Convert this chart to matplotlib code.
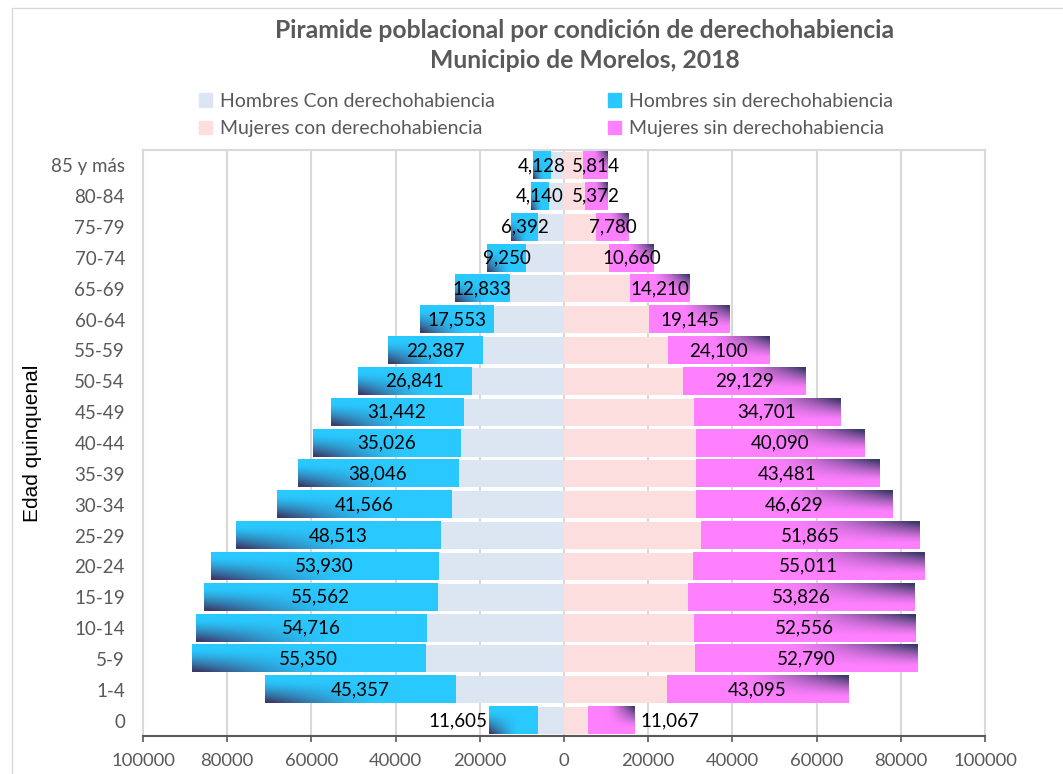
import numpy as np
import matplotlib.pyplot as plt
from matplotlib.patches import Patch, Rectangle
from matplotlib.colors import to_rgb

plt.rcParams['font.family'] = ['Lato', 'DejaVu Sans']

# age groups, bottom to top
edades = ['0', '1-4', '5-9', '10-14', '15-19', '20-24', '25-29', '30-34', '35-39',
          '40-44', '45-49', '50-54', '55-59', '60-64', '65-69', '70-74', '75-79',
          '80-84', '85 y más']
hombres_con = [6200, 25700, 33100, 32600, 30000, 30000, 29300, 26600, 25200,
               24700, 24000, 22100, 19300, 16600, 13100, 9000, 6200, 3800, 3300]
hombres_sin = [11605, 45357, 55350, 54716, 55562, 53930, 48513, 41566, 38046,
               35026, 31442, 26841, 22387, 17553, 12833, 9250, 6392, 4140, 4128]
mujeres_con = [5800, 24400, 31100, 30800, 29400, 30600, 32500, 31300, 31300,
               31300, 30800, 28200, 24600, 20300, 15600, 10800, 7700, 4900, 4600]
mujeres_sin = [11067, 43095, 52790, 52556, 53826, 55011, 51865, 46629, 43481,
               40090, 34701, 29129, 24100, 19145, 14210, 10660, 7780, 5372, 5814]

c_hcon = '#DCE6F2'
c_mcon = '#FDDEDE'
c_hsin = '#29C8FF'
c_msin = '#FF80FF'
c_dark = '#3C3A68'
gris = '#595959'

fig = plt.figure(figsize=(10.63, 7.74), dpi=100)
ax = fig.add_axes([143/1063, 1-736/774, (985-143)/1063, (736-150)/774])

y = np.arange(len(edades))
h = 0.88
hc = -np.array(hombres_con)
hs = -np.array(hombres_sin)
mc = np.array(mujeres_con)
ms = np.array(mujeres_sin)

ax.barh(y, hc, height=h, color=c_hcon, zorder=2)
ax.barh(y, mc, height=h, color=c_mcon, zorder=2)
bh = ax.barh(y, hs, left=hc, height=h, color=c_hsin, zorder=2)
bm = ax.barh(y, ms, left=mc, height=h, color=c_msin, zorder=2)


def degradado(rect, base, esquina):
    x0, yb = rect.get_x(), rect.get_y()
    w, hh = rect.get_width(), rect.get_height()
    xl, xr = min(x0, x0 + w), max(x0, x0 + w)
    U, V = np.meshgrid(np.linspace(0, 1, 120), np.linspace(0, 1, 30))
    if esquina == 'tr':
        U, V = 1 - U, 1 - V
    t = np.clip(1 - U / 0.6, 0, 1) ** 1.4 * np.clip(1 - V / 0.8, 0, 1) ** 1.3
    t = np.clip(t * 1.1, 0, 1)
    b = np.array(to_rgb(base))
    k = np.array(to_rgb(c_dark))
    img = b * (1 - t[..., None]) + k * t[..., None]
    ax.imshow(img, extent=[xl, xr, yb, yb + hh], origin='lower', aspect='auto',
              interpolation='bilinear', zorder=3)


for r in bh:
    degradado(r, c_hsin, 'bl')
for r in bm:
    degradado(r, c_msin, 'tr')

# data labels
for i in range(len(edades)):
    th = f'{hombres_sin[i]:,}'
    tm = f'{mujeres_sin[i]:,}'
    if i == 0:
        ax.annotate(th, (hc[i] + hs[i], y[i]), xytext=(-1, 0), textcoords='offset points',
                    ha='right', va='center', fontsize=13.5, zorder=5)
        ax.annotate(tm, (mc[i] + ms[i], y[i]), xytext=(4, 0), textcoords='offset points',
                    ha='left', va='center', fontsize=13.5, zorder=5)
    else:
        ax.text(hc[i] + hs[i] / 2, y[i], th, ha='center', va='center', fontsize=13.5, zorder=5)
        ax.text(mc[i] + ms[i] / 2, y[i], tm, ha='center', va='center', fontsize=13.5, zorder=5)

ax.set_xlim(-100000, 100000)
ax.set_ylim(-0.5, len(edades) - 0.5)
ticks = np.arange(-100000, 100001, 20000)
ax.set_xticks(ticks)
ax.set_xticklabels([str(abs(t)) for t in ticks], color=gris, fontsize=13.3)
ax.set_yticks(y)
ax.set_yticklabels(edades, color=gris, fontsize=13.5)
ax.tick_params(axis='y', length=0, pad=13)
ax.tick_params(axis='x', length=4, width=1.2, color=gris, pad=8)
ax.grid(axis='x', color='#D9D9D9', linewidth=1.5, zorder=0)
for s in ['top', 'left', 'right']:
    ax.spines[s].set_color('#D9D9D9')
    ax.spines[s].set_linewidth(1.5)
ax.spines['bottom'].set_color(gris)
ax.spines['bottom'].set_linewidth(1.5)

fig.text(33/1063, 1 - 443/774, 'Edad quinquenal', rotation=90, ha='center', va='center',
         fontsize=15, color='black', family='Liberation Sans')

fig.text(585/1063, 1 - 30/774, 'Piramide poblacional por condición de derechohabiencia',
         ha='center', va='center', fontsize=17.8, fontweight='bold', color=gris)
fig.text(585/1063, 1 - 60/774, 'Municipio de Morelos, 2018',
         ha='center', va='center', fontsize=17.8, fontweight='bold', color=gris)

handles = [Patch(color=c_hcon), Patch(color=c_mcon), Patch(color=c_hsin), Patch(color=c_msin)]
labels = ['Hombres Con derechohabiencia', 'Mujeres con derechohabiencia',
          'Hombres sin derechohabiencia', 'Mujeres sin derechohabiencia']
leg = fig.legend(handles, labels, ncol=2, loc='center', bbox_to_anchor=(546/1063, 1 - 115/774),
                 frameon=False, fontsize=14, handlelength=0.7, handleheight=0.7,
                 handletextpad=0.4, columnspacing=5.8, labelspacing=0.55)
for t in leg.get_texts():
    t.set_color(gris)

fig.add_artist(Rectangle((12/1063, -0.01), 1.0, 1.0, transform=fig.transFigure,
                         fill=False, edgecolor='#D9D9D9', linewidth=1))

fig.savefig('out.png', dpi=100)
